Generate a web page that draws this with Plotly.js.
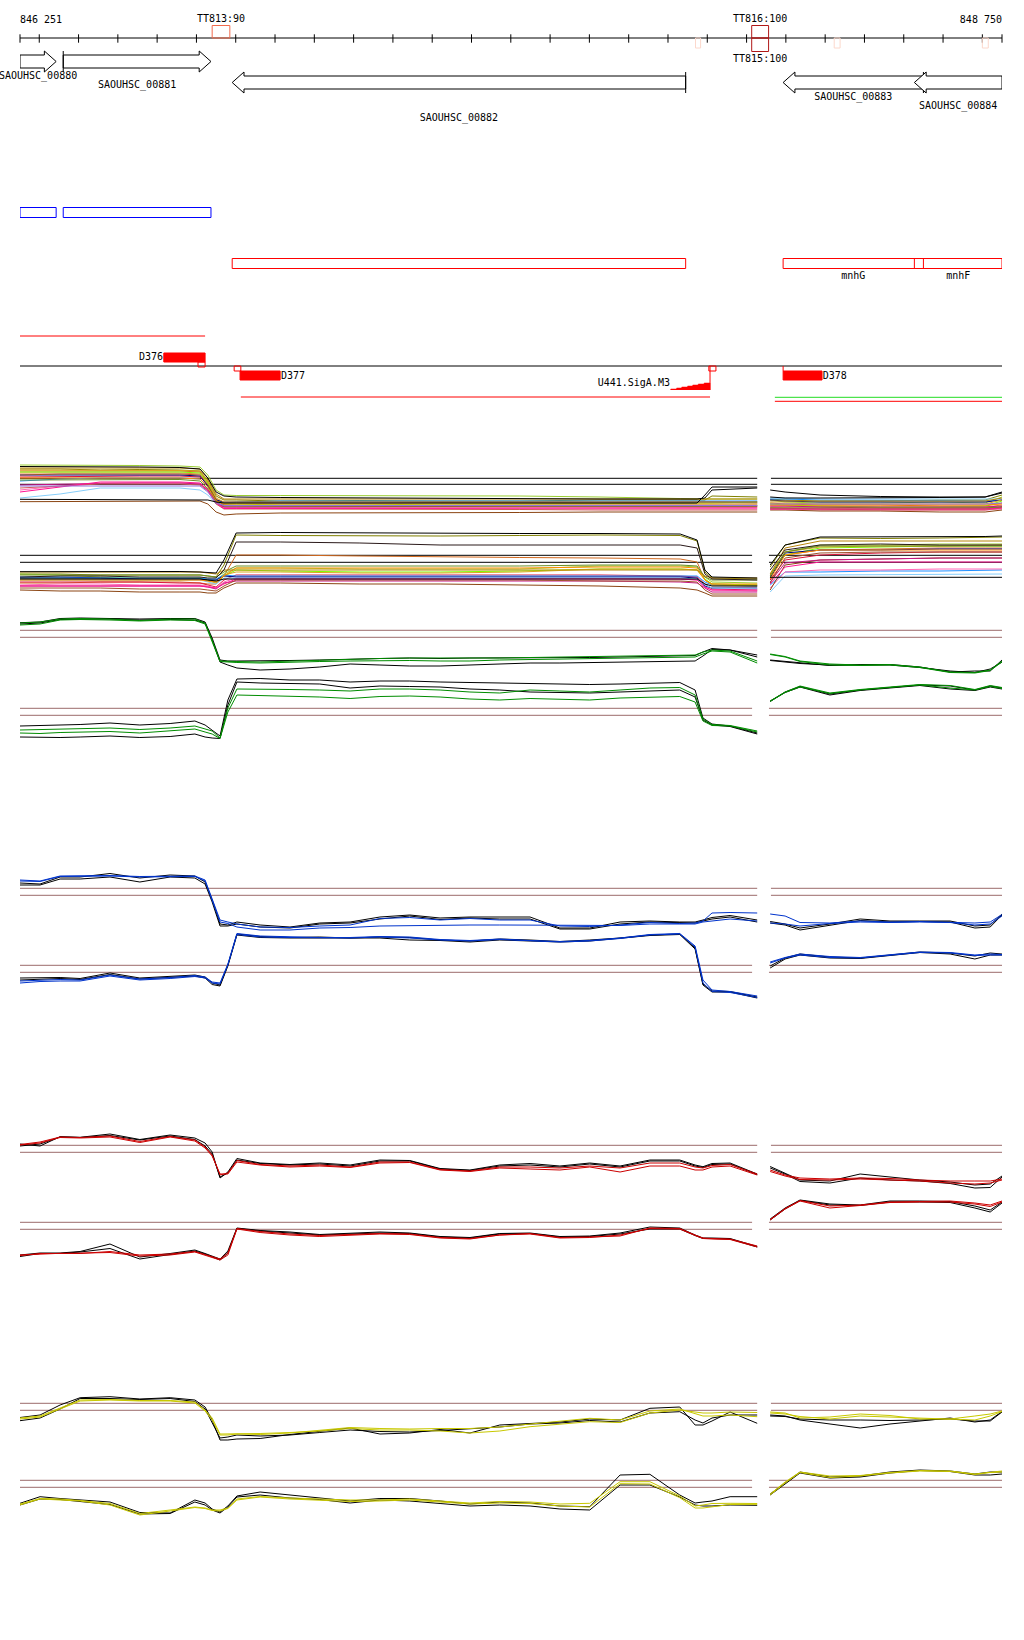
<!DOCTYPE html>
<html><head><meta charset="utf-8">
<script src="https://cdn.plot.ly/plotly-3.0.1.min.js"></script>
<style>html,body{margin:0;padding:0;background:#fff}#chart{width:1024px;height:1640px}</style>
</head><body><div id="chart"></div>
<script>
// ---------------- region ----------------
const viewStart = 846251, viewEnd = 848750;
const startLabel = '846 251', endLabel = '848 750';

// ---------------- genes ----------------
const geneNames  = ['SAOUHSC_00880','SAOUHSC_00881','SAOUHSC_00882','SAOUHSC_00883','SAOUHSC_00884'];
const geneStart  = [846251, 846361, 846791, 848193, 848527];
const geneEnd    = [846343, 846737, 847945, 848550, 848750];
const geneStrand = ['+','+','-','-','-'];
const geneAlias  = ['','','','mnhG','mnhF'];

// ---------------- terminators ----------------
const termNames  = ['TT813:90','TT816:100','TT815:100'];
const termStart  = [846740, 848113, 848113];
const termEnd    = [846785, 848156, 848156];
const termStrand = ['+','+','-'];
const termScore  = [90, 100, 100];
const weakTermStart = [847970, 848323, 848700];
const weakTermEnd   = [847983, 848338, 848715];

// ---------------- promoters / TSS ----------------
const promNames  = ['D376','D377','D378'];
const promStart  = [846617, 846811, 848193];
const promEnd    = [846722, 846913, 848292];
const promStrand = ['+','-','-'];
const tssStart   = [846704, 846796, 848004];
const tssEnd     = [846722, 846813, 848022];
const tssStrand  = ['+','-','-'];
const sigName    = 'U441.SigA.M3';
const sigStepPos   = [847907, 847922, 847935, 847950, 847963, 847977, 847992, 848007];
const sigStepScore = [1, 2, 3, 4, 5, 6, 7];
const transStart = [846251, 846813, 848172, 848172];
const transEnd   = [846722, 848007, 848750, 848750];

// ---------------- probe positions ----------------
const posL = [846251,846302,846353,846404,846480,846556,846633,846696,846722,846740,846760,846780,846803,846862,846938,847014,847091,847167,847243,847320,847396,847472,847549,847625,847701,847778,847854,847930,847969,847989,848012,848058,848127];
const posR = [848160,848198,848236,848312,848389,848465,848541,848618,848681,848720,848750];
const p1PosL = [846251,846353,846455,846556,846658,846709,846729,846750,846770,846801,846913,847116,847320,847523,847727,847931,847974,847994,848012,848127];
const p1PosR = [848160,848198,848287,848440,848592,848707,848750];

// ---------------- panel 1 : many conditions ----------------
const p1FwdF1  = [55,55,55,54.5,54,53,45,30,25,24.5,24.5,24.5,24,24,23,21,21,21,21,21, 20,18,17,17,18,17,23];
const p1FwdK1  = [53.5,53.5,53,53,52.5,51,42,28,24,23,22.5,22,22,21.5,21,21,21,22,30,32, 30,28,25,23.5,23,23,27];
const p1FwdF2  = [51,51,50,50.5,50,49,40,24,20,20,19,19.5,19,19,20,20,20,20,24,23, 21,20,19,19,20,20,25];
const p1FwdF3  = [49,49,48.5,49,49,48,38,21,17,17,17,16.5,17.5,17,17,18,18,18,18,17, 17,16,15,15,14,14,17];
const p1FwdF4  = [47,47,47,46.5,47,46,36,20,15,15,14.5,14,14.5,15,15,15,15,15,15,15, 15,15,14,13,13,13,15];
const p1FwdF5  = [39,41,42,42,42,41,33,20,17,18,19,19,19,19,19,19,19,19,19,19, 21,21,20,20,19.5,19,20];
const p1FwdF6  = [43,43.5,44,44,44,43,35,18,13,13,13,12.5,13,13,13,13,13,13,13,13, 13,13,13,12,12,12,13];
const p1FwdF7  = [30,34,37,37,37,36,30,17,12,12,12,11.5,11.5,11,11,11,11,11,11,11, 11,11,10,10,10,10,11];
const p1FwdF8  = [22,26,32,32,32,30,25,16,15,16,16,16,16,15.5,15.5,16,16,16,16,16, 22,22,21,21,21,21,21];
const p1FwdF9  = [48,48,47.5,48,48,47,37,20,16,16,15,15,16,16,16.5,16.5,16.5,16.5,17,18, 16,15,14,13,13,14,19];
const p1FwdF10 = [18.3,18.5,19,19,19,19,16,8,5,6,7,7,7.5,7.5,8,8,8,8,8,8, 10,10,9,9,8,8,10];
const p1FwdF11 = [35,36,36.5,37,37,36,30,17,13,13,13,13.5,13.5,14,14,14,14,14,14,14, 14,14,13,13,13,13,14];
const p1FwdF12 = [45,45,45,45,45,44,34,20,18,18,18,17.5,18,18,17.5,17.5,18,18,18,18, 20,19,18,18,18,18,20];
const p1FwdF13 = [32,34,36,36,36,35,29,16,11,11,11,11,10.5,10.5,10,10,10,10,10,10, 11,11,11,10,10,10,12];
const p1FwdF14 = [50,50,50,49.5,49.5,49,39,22,18,18,18,18,18,17.5,17.5,17.5,17.5,17.5,18,18, 17,17,16,16,15.5,16,20];
const p1FwdF15 = [45,46,46,46,46,45,35,20,15,14.5,14,14,14,14,14,14,14,14,14,14, 12,11.5,11,11,11,11,13];
const p1FwdF16 = [42,42,42,42,42,41,33,19,16,16,16,16,16,16,16,16,16,16,16,16, 15,15,15,15,15,15,16];
const p1FwdF17 = [40,40,40,40.5,40.5,39,31,18,14,14,14,14,14,14.5,14.5,14,14,14,14,14, 12,12,12,12,12,12,13];
const p1FwdF18 = [28,33,38,38,38,37,30,17,11.5,11.5,11.5,11.5,12,12,12,12,12,12,12,12, 11,11,11,11,11,11,12];
const p1FwdF19 = [34,34,34,34,34.5,34,28,17,14.5,14.5,14.5,14.5,14.5,14.5,14.5,14.5,14.5,14.5,14.5,14.5, 16,16,16,16,16,16,17];
const p1FwdF20 = [52,52,52,52,52,51,42,26,21,21,21,21,21,21,21,21,21,21,21,21, 19,19,19,19,19,19,22];
const p1FwdK2  = [20.7,20.7,20.7,20.7,20.7,20.7,20,18,17,17,17,17,17,17,17,17,17,25,33,33, 23,22,22,22,22.5,23,28];

const p1RevK1  = [28.3,28.3,29,29,28.5,28,27.5,27,40,67,67.5,67,66.5,66.5,66.5,66,60,30,23,22, 35,55,63,63,63,63.5,64];
const p1RevR1  = [26,26,25,25,25,25,24,23,35,65,64.5,64,64,64.5,65,64.5,59,28,22,21, 33,55,62,61.5,62,63,63];
const p1RevK2  = [23,24,24,23,23,23,22,22,30,58,58,57,55,55,55,55,52,26,21,20, 30,50,55,56,55,55,55];
const p1RevR2  = [17,17,18,18,18,17,16,16,24,45,45,44,43,42.5,42,41,38,20,16,15, 25,45,50,51,52,52,52];
const p1RevR3  = [26,25,23,20,20,22,21,20,26,32,32,31,31,31,34,34,33,23,18,17, 26,48,55,55,56,56,56];
const p1RevR4  = [22,22,22,22,22,22,20,18,24,30,29,28,28,29,31,31,30,21,16,15, 23,45,52,53,54,54,54];
const p1RevR5  = [18,18,18,18,17,17,15,13,20,25,25,25,25,25,25,24,23,16,11,10, 20,40,45,47,48,48,48];
const p1RevR6  = [23,23,22,22,22,22,21,21,25,24,24,24,24,24,24,24,24,18,15,14, 15,28,28,29,29,30,30];
const p1RevR7  = [15,16,16,15,15,15,14,12,18,22,22,22,22,21.5,21.5,21,20,13,10,9, 12,28,30,30,31,31,31];
const p1RevR8  = [10,9,9,8,8,8,7,7,12,17,17,16,16,15,14,12,10,7,4,4, 10,35,40,41,42,42,42];
const p1RevR9  = [22,22,22,21,21,21,20,20,24,23,23,23,23,23,23,23,22,14,12,12, 22,47,50,50,51,51,51];
const p1RevR10 = [20,20,20,20,20,20,19,17,25,28,28,27,27,28,31,31,30,20,15,14, 24,48,53,54,54,55,55];
const p1RevR11 = [14,14,14,14,14,14,13,11,17,19,19,19,19,19,19,18,17,12,8,8, 18,37,40,41,42,42,42];
const p1RevR12 = [12,12,12,11,11,11,10,9,14,20,20,20,20,20,19,19,18,10,6,6, 17,42,47,48,48,48,48];
const p1RevR13 = [20,20,20,20,20,20,18,16,22,22,22,22,22,22,22,22,21,15,12,11, 8,24,25,25.5,26,26,26];
const p1RevR14 = [20,20,20,20,20,20,19,18,24,32,32,32,32,32,33,33,32,20,16,16, 21,45,50,50,50,50,50];
const p1RevR15 = [25,25,25,25,25,25,24,23,28,34,34,34,34,34,35,35,34,23,20,20, 24,48,54,54,54,54,54];
const p1RevR16 = [14,14,14,14,14,14,13,12,16,21,21,21,21,21,21,21,20,13,10,10, 16,33,38,38,38,38,38];
const p1RevR17 = [28,28,28,28,28,28,27,26,30,30,30,30,30,30,30,30,30,24,22,22, 26,52,59,59,59,59,59];
const p1RevK3  = [21,21,21,21,21,21,20,19,21,21,21,21,21,21,21,21,21,16,14,14, 22.7,22.7,22.7,22.7,22.7,22.7,22.7];

// ---------------- panel 2 : green ----------------
const grnFwdK1 = [57.3,58,61.5,62,61.5,61,61.5,61.5,58,42,20,19,19,19,19.5,20,21,21.5,22,21.5,22,22,22,22,22.5,23,23.5,24,24.5,28,31.5,30,23, 20,18.5,17,14.5,15.5,15.5,13,8,9,9,20];
const grnFwdK2 = [56,57,60.5,61,61,60,60.5,60,57,40,18,15,12,10,11,13,16,15,14,14,15,15.5,17,17,17.5,18,18,18.5,19,24,30.5,30,25, 19.5,18,16.5,15,15,15,12.5,9,7.5,11,18];
const grnFwdG1 = [57,58,61,61.5,61,59.5,61,61,57,40,19,19,18.5,18,19,20,21,21.5,22,22,21.5,22,22.5,23,23.5,24,24.5,25,25,28,30,29,19, 26,23.5,19,16,15,15.5,13,8,7.5,10,19];
const grnFwdG2 = [55,56,60,60.5,60,59,60,59.5,56,39,18.5,18,17.5,17,18,18.5,19,19.5,19.5,19,19,20,20.5,21,21.5,22,22.5,23,23,26,29,28,17, 25.5,23,18.5,15,14.5,15,12.5,7.5,7,9.5,18];
const grnRevK1 = [24,24.5,25,25.5,27,25,26.5,29,25,20,14,50,71,71.5,70,70,68,69,69,68,67.5,67,66.5,66,65.5,66,67,67.5,60,32,26,24,17, 48.5,58,63.5,56,60,62.5,65,64,60,64,62];
const grnRevK2 = [13,12.5,12.5,13,14,12.5,13.5,16,13,12,11.5,45,68,67,66.5,66,62,64,63.5,63,61,60,58,57.5,57,58,59,60,53,30,25,23.5,16, 49,57.5,63,55,59.5,62,64.5,61,59.5,63,61];
const grnRevG1 = [20,20.5,21,21,22,20.5,22,24,21,19,12,42,61,61,60.5,60,59,61,61,60,58,57,60,59,58,60,62,62.5,55,31,25.5,24.5,19, 49,58,64,57,60.5,63,65.5,64.5,60.5,64.5,62.5];
const grnRevG2 = [17,16.5,17.5,18,18.5,17,19,21,18,16,11.5,38,55,54.5,54,53,51.5,53.5,54,53,51,50,51.5,50.5,50,52,53,53.5,48,29,24.5,24,18, 48.5,57.5,63,56.5,60,62.5,65,62,60,63.5,61.5];

// ---------------- panel 3 : blue ----------------
const bluFwdK1 = [57,56,63,63,66.5,62,65,64,58,40,16,15,18,15,13,17,18,23,25,22,23,23,23,12,12,18,19,18,18,20,22.5,24.5,20, 18.5,16,12,16,21,19,19,19,14,15,26];
const bluFwdK2 = [55,55,61,61,63,58,63,62,56,38,14,14,16,13,12,16,17,21,24,20.5,22,21,21,11,11,16,18,17.5,17,19,21,23,18, 17,15,10,15,19.5,18,18.5,18,12,13,25];
const bluFwdB1 = [60,59,64,64.5,64.5,63.5,64,64,60,42,20,18,16,13,12.5,14,15,21.5,22.5,20,21.5,20,20,14,13.5,15,17.5,16.5,17,19,27,27.5,27, 26,24,17.5,17,19,18,18.5,18,17,18,25.5];
const bluFwdB2 = [59,58.5,63.5,64,64,63,63.5,63.5,59,40,18,16.5,13,10,10,12,12.5,14,14.5,14.5,15,15,15,14.5,14.5,14.5,16,16,16,18,19,21,19, 17,16,14,16.5,18,17.5,18,17.5,15,16,24];
const bluRevK1 = [32,32,32.5,31.5,37,32,34,35,33,27,25,45,76,73.5,72.5,73,72,73,72.5,70,69,71,70,68.5,70,72,75,76,62,26,19,18.5,13, 44,52,56,53,52,55,58,57,54,57,56];
const bluRevK2 = [30,31,31.5,30.5,35.5,31,33,34,32,25.5,24,44,75,72.5,72,72,71.5,72,70,69.5,68,70,69,68,69,71.5,74.5,75.5,61,25,18,18,12, 42,51,55,52,51.5,54.5,57.5,56,51,55,55];
const bluRevB1 = [29,30,30.5,30,35,31,32.5,34.5,33,28,27,46,76.5,74,73,72.5,72.5,73.5,73,70.5,69.5,71,69.5,68.5,69.5,72,75.5,76.5,64,30,20,18.5,14, 48,52.5,56,53.5,52.5,55.5,58,57.5,55,56,55.5];
const bluRevB2 = [27,28.5,29,29,34,30,31.5,33.5,32,27,26,45,75.5,73,72.5,72,72,73,72,70,69,70.5,69,68,69,71.5,75,76,63,27,18.5,17.5,12.5, 47,52,55,52.5,52,55,57.5,57,54.5,55,55];

// ---------------- panel 4 : red ----------------
const redFwdK1 = [56,54,63.3,62.7,66,60.5,65,62,57,48,22,28,41.5,37,35.5,37,35,40,39.5,31.5,30,35,36.5,34,37,34,40,40,35,33.3,36.5,37,26, 33.5,27,20,19,26,23,20,18,15,16,24];
const redFwdK2 = [54,56,63,62.5,64.5,60,64,60.5,54,46,23,27,40,36.5,35,36,34,39,39,31,29.5,34,35,33,36,33,39,39,34,32.5,35.5,36,25.5, 32,26,18.5,17,22,20,19,16.5,12,12.5,23];
const redFwdR1 = [55.5,58,63,62.5,64,58.5,63.5,60,53,45,25,27,39.5,35.5,34,35,33,38,38,30.5,29,33,33,32,34,32,37,37,33,32,34.5,35.5,26, 30,25,22,21,22,21.5,20,19,19,19,21];
const redFwdR2 = [55,57,62.5,62,63,57.5,63,59,52,44,26,26,38,35,33,34,32.5,37,37.5,30,28.5,32,31,30,33,28,34,34,30,30,33,34,25, 28.5,24,20.5,20,21,20,19,17,16,17,20];
const redRevK1 = [15,17,17,18.5,26,13,16.5,20,16.5,14,11,19,42,39.5,38,35.5,36.5,38,37,33.5,32.5,36.5,37,33.5,34,37,43,42,35,32,32,31.5,23.5, 51,62,70,66,65,69,69,68.5,64,60,68];
const redRevK2 = [13.5,16.5,16.5,18,21.5,11,15.5,19,16,13,10,17,41.5,39,37,35,36,37,36.5,33,32,36,36.5,33,33.5,36,41,41,34.5,31.5,31.5,31,23, 50,61,69.5,65,64.5,68,68,67.5,62,58,67];
const redRevR1 = [15,16,16.7,16.5,18.5,15,16,18.5,15.5,13.5,11,17,41.5,38.5,36,34.5,35.5,36.5,36,32.5,31.5,35,36.5,32.5,33,34,42,41.5,35,32,31.5,31,24, 50.5,61.5,69.5,64,65,68,68.5,69,67,65,69];
const redRevR2 = [14.5,16.5,16.5,16.7,17.5,14,15,18,15,13,10,15,41,37.5,35,33.5,35,36,35.5,32,31,35,36,32,32.5,35,41.5,41,34.5,31.5,31,30.5,23, 50,61,69,62,64.5,67.5,68,68,66,63.5,68];

// ---------------- panel 5 : yellow ----------------
const yelFwdK1 = [32.5,35,45,52.3,53.3,51,52.3,50,43,30,10,10,11,11.5,15.5,19,22,16,17,20.5,17,25,26.7,28,31,30,41.7,43,25,25,29,38,26.7, 35,34,30,26,22,26,29,32,28,30,38.5];
const yelFwdK2 = [29.3,32,41,51.5,51.5,50.5,51.5,48.5,41,27,12,13,15,14,15,17.5,20,18.5,18,19.5,21,23,26,27,29.5,28,37,38.3,30,27,32,35,35, 34,33.5,31,30,30,29.5,30,31,29,29,38];
const yelFwdY1 = [32,34,42,50,50.5,49.5,49.5,48,40,32,16,16,16.5,16.5,17.5,19,21.5,20,20,19,17,19,23.3,26,28.3,27.5,37,40,38,37,37,38,37.5, 38,37,32,33,36,34.5,31,31,34,36,39];
const yelFwdY2 = [31,33,41,49,50,49,49,47,39,30,15,15,16,15.5,17,20,22.5,21.5,21,21.5,21.5,23,26,28.3,31.7,30,39,41,36,34,34,35,33.3, 37,36,33.5,31,34,33,32,30.5,30,34,38.5];
const yelRevK1 = [26.7,33.3,31.5,30,28,17.5,17,30,27,21,18,24,34,38,35,32.5,29,31.5,31.5,29,26,28,27,24,23.3,55,55.7,35,27,28,29,33.3,33.3, 36,47,58,53,54,58,60,59,56,58,58];
const yelRevK2 = [25,31,30.5,28.5,25.5,16,16.5,28,25,20,17,23,33,35,32,30.5,27,30,29,26.5,24,25,24,21,20,45,45,33,25,24,24,25,24.7, 35,46,57,52,53,57,59.5,58.5,55,55,56];
const yelRevY1 = [26,31.5,31,29.5,26.5,16.5,20,23,22,20,20,22,31,33.5,32,31,30,30,31,29,27,28.5,28,26,26.7,48.3,48.3,34,24,25,26.5,26.7,26.5, 36,48,58,54,54.5,57.5,59.5,59,56,58,59];
const yelRevY2 = [25,31,30,29,25,15,19,22.5,21.5,19.5,19,21.5,30,33,31,30,28.5,29,30,28,26,27,26.5,24,23,46.3,46,32.3,22,22,23,25.5,25.7, 35,47,57.5,52.5,54,57,59,58.5,55.5,57.5,58];

// threshold levels per sub-panel
const p1FwdRef = [41.7, 35.7], p1RevRef = [44.7, 37.7];
const grnFwdRef = [49.7, 42.7], grnRevRef = [41.7, 34.7];
const bluFwdRef = [51.7, 44.7], bluRevRef = [44.7, 37.7];
const redFwdRef = [54.7, 47.7], redRevRef = [47.7, 40.7];
const yelFwdRef = [46.7, 39.7], yelRevRef = [49.7, 42.7];

// segment extents of the tiling (left / right blocks)
const fwdSegStart = [846251, 848162], fwdSegEnd = [848127, 848750];
const revSegStart = [846251, 848157], revSegEnd = [848114, 848750];

// ================= drawing =================
const H = 1640;
const mono = 'DejaVu Sans Mono, monospace';
const traces = [];
const base = {type:'scatter', hoverinfo:'skip', showlegend:false, xaxis:'x'};
function line(xs, ys, color, width, axis){
  traces.push(Object.assign({}, base, {mode:'lines', x:xs, y:ys, yaxis:axis||'y', line:{color:color, width:width||1}}));
}
function poly(xs, ys, lineColor, fillColor, width){
  traces.push(Object.assign({}, base, {mode:'lines', x:xs, y:ys, yaxis:'y', fill:'toself',
    fillcolor:fillColor, line:{color:lineColor, width:width===undefined?1:width}}));
}
function rect(x0, x1, y0, y1, lineColor, fillColor){
  poly([x0,x1,x1,x0,x0],[y0,y0,y1,y1,y0], lineColor, fillColor||'rgba(0,0,0,0)');
}
function label(x, y, s, pos){
  traces.push(Object.assign({}, base, {mode:'text', x:[x], y:[y], yaxis:'y', text:[s],
    textposition:pos||'middle center', cliponaxis:false,
    textfont:{family:mono, size:10, color:'#000'}}));
}

// coordinate ruler
line([viewStart, viewEnd], [38, 38], '#000', 1);
const ticks = [viewStart];
for (let p = 846300; p < viewEnd; p += 100) ticks.push(p);
ticks.push(viewEnd);
traces.push(Object.assign({}, base, {mode:'markers', x:ticks, y:ticks.map(()=>38.5), yaxis:'y', cliponaxis:false,
  marker:{symbol:'line-ns', size:6, line:{width:1, color:'#000'}}}));
label(viewStart, 20, startLabel, 'middle right');
label(viewEnd, 20, endLabel, 'middle left');

// terminators
weakTermStart.forEach((s,i)=>rect(s, weakTermEnd[i], 38, 48, '#fcd8cc'));
termNames.forEach((n,i)=>{
  const col = termScore[i] >= 100 ? '#b01818' : '#f26a4c';
  const fwd = termStrand[i] === '+';
  rect(termStart[i], termEnd[i], fwd ? 25.5 : 38, fwd ? 38 : 51.5, col);
  label((termStart[i]+termEnd[i])/2, fwd ? 19.5 : 59, n);
});

// gene arrows
const headLen = 30;
const geneLabelRow = [76, 85, 118, 97, 106];
geneNames.forEach((n,i)=>{
  const s = geneStart[i], e = geneEnd[i], fwd = geneStrand[i] === '+';
  const yc = fwd ? 61.5 : 82.5;
  const ys = [yc-6.5, yc-6.5, yc-10.5, yc, yc+10.5, yc+6.5, yc+6.5, yc-6.5];
  const xs = fwd ? [s, e-headLen, e-headLen, e, e-headLen, e-headLen, s, s]
                 : [e, s+headLen, s+headLen, s, s+headLen, s+headLen, e, e];
  poly(xs, ys, '#000', '#fff', 1);
  if (fwd && s > viewStart) line([s, s], [yc-10.5, yc+10.5], '#000', 1);
  if (!fwd && e < viewEnd) line([e, e], [yc-10.5, yc+10.5], '#000', 1);
  label((s+e)/2, geneLabelRow[i], n);
});

// CDS boxes
geneNames.forEach((n,i)=>{
  const fwd = geneStrand[i] === '+';
  rect(geneStart[i], geneEnd[i], fwd ? 207.5 : 258.5, fwd ? 217.5 : 268.5, fwd ? '#0000ff' : '#ff0000');
  if (geneAlias[i]) label((geneStart[i]+geneEnd[i])/2, 276, geneAlias[i]);
});

// transcripts / promoters
const transRow = [336, 397, 397.3, 401.3];
const transColor = ['#ff0000', '#ff0000', '#22dd22', '#ff0000'];
transStart.forEach((s,i)=>line([s, transEnd[i]], [transRow[i], transRow[i]], transColor[i], 1));
line([viewStart, viewEnd], [366, 366], '#000', 1);
promNames.forEach((n,i)=>{
  const fwd = promStrand[i] === '+';
  rect(promStart[i], promEnd[i], fwd ? 353 : 371, fwd ? 362 : 380, '#ff0000', '#ff0000');
  if (fwd) label(promStart[i]-2, 357.5, n, 'middle left');
  else label(promEnd[i]+2, 376, n, 'middle right');
});
tssStart.forEach((s,i)=>{
  const fwd = tssStrand[i] === '+';
  rect(s, tssEnd[i], fwd ? 362 : 366, fwd ? 367 : 371, '#ff0000');
});
line([promStart[2], promStart[2]], [366, 371], '#ff0000', 1);
// sigma promoter score staircase
(function(){
  const xs = [sigStepPos[0]], ys = [390];
  sigStepScore.forEach((sc,i)=>{ xs.push(sigStepPos[i], sigStepPos[i+1]); ys.push(390-sc, 390-sc); });
  xs.push(sigStepPos[sigStepPos.length-1]); ys.push(390);
  poly(xs, ys, '#ff0000', '#ff0000', 0.5);
  const last = sigStepPos[sigStepPos.length-1];
  line([last, last], [366, 390], '#ff0000', 1);
  label(sigStepPos[0]-2, 383.5, sigName, 'middle left');
})();

// ---------------- expression panels ----------------
const refColor = '#9c6b6b';
const panels = [
  {B:520,  H:70, ref:p1FwdRef, rc:'#000', seg:'f', posL:p1PosL, posR:p1PosR,
   series:[p1FwdF1,p1FwdF2,p1FwdF3,p1FwdF4,p1FwdF5,p1FwdF6,p1FwdF7,p1FwdF8,p1FwdF9,p1FwdF10,p1FwdF11,p1FwdF12,p1FwdF13,p1FwdF14,p1FwdF15,p1FwdF16,p1FwdF17,p1FwdF18,p1FwdF19,p1FwdF20,p1FwdK1,p1FwdK2],
   colors:['#9acd32','#808000','#d2691e','#e8853a','#1e90ff','#dc143c','#ff69b4','#87cefa','#7cfc00','#8b4513','#c71585','#000080','#cd5c5c','#daa520','#a0522d','#ff8c00','#6b8e23','#ff1493','#9370db','#b8860b','#000','#000']},
  {B:600,  H:75, ref:p1RevRef, rc:'#000', seg:'r', posL:p1PosL, posR:p1PosR,
   series:[p1RevR1,p1RevR2,p1RevR3,p1RevR4,p1RevR5,p1RevR6,p1RevR7,p1RevR8,p1RevR9,p1RevR10,p1RevR11,p1RevR12,p1RevR13,p1RevR14,p1RevR15,p1RevR16,p1RevR17,p1RevK1,p1RevK2,p1RevK3],
   colors:['#808000','#d2691e','#9acd32','#7cfc00','#dc143c','#1e90ff','#ff69b4','#8b4513','#000080','#daa520','#c71585','#a0522d','#87cefa','#ff8c00','#6b8e23','#ff1493','#b8860b','#000','#2b1a1a','#000']},
  {B:680,  H:80, ref:grnFwdRef, rc:refColor, seg:'f', posL, posR, series:[grnFwdK1,grnFwdK2,grnFwdG1,grnFwdG2], colors:['#000','#000','#008c00','#008c00']},
  {B:750,  H:90, ref:grnRevRef, rc:refColor, seg:'r', posL, posR, series:[grnRevK1,grnRevK2,grnRevG1,grnRevG2], colors:['#000','#000','#008c00','#008c00']},
  {B:940,  H:80, ref:bluFwdRef, rc:refColor, seg:'f', posL, posR, series:[bluFwdK1,bluFwdK2,bluFwdB1,bluFwdB2], colors:['#000','#000','#0033cc','#0033cc']},
  {B:1010, H:90, ref:bluRevRef, rc:refColor, seg:'r', posL, posR, series:[bluRevK1,bluRevK2,bluRevB1,bluRevB2], colors:['#000','#000','#0033cc','#0033cc']},
  {B:1200, H:80, ref:redFwdRef, rc:refColor, seg:'f', posL, posR, series:[redFwdK1,redFwdK2,redFwdR1,redFwdR2], colors:['#000','#000','#cc0000','#cc0000']},
  {B:1270, H:80, ref:redRevRef, rc:refColor, seg:'r', posL, posR, series:[redRevK1,redRevK2,redRevR1,redRevR2], colors:['#000','#000','#cc0000','#cc0000']},
  {B:1450, H:80, ref:yelFwdRef, rc:refColor, seg:'f', posL, posR, series:[yelFwdK1,yelFwdK2,yelFwdY1,yelFwdY2], colors:['#000','#000','#c8c800','#c8c800']},
  {B:1530, H:80, ref:yelRevRef, rc:refColor, seg:'r', posL, posR, series:[yelRevK1,yelRevK2,yelRevY1,yelRevY2], colors:['#000','#000','#c8c800','#c8c800']}
];

const layout = {
  width:1024, height:1640, margin:{l:20, r:22, t:0, b:0, pad:0},
  paper_bgcolor:'#fff', plot_bgcolor:'rgba(0,0,0,0)', showlegend:false, hovermode:false,
  xaxis:{range:[viewStart, viewEnd], visible:false, fixedrange:true},
  yaxis:{domain:[1-420/H, 1], range:[420, 0], visible:false, fixedrange:true}
};

panels.forEach((p, k)=>{
  const ax = 'y' + (k+2);
  layout['yaxis' + (k+2)] = {domain:[1 - p.B/H, 1 - (p.B - p.H)/H], range:[0, p.H], visible:false, anchor:'x', fixedrange:true};
  const ss = p.seg === 'f' ? fwdSegStart : revSegStart;
  const se = p.seg === 'f' ? fwdSegEnd : revSegEnd;
  p.ref.forEach(r=>{ ss.forEach((s,j)=>line([s, se[j]], [r, r], p.rc, 1, ax)); });
  const nL = p.posL.length;
  p.series.forEach((v, j)=>{
    line(p.posL, v.slice(0, nL), p.colors[j], 1, ax);
    line(p.posR, v.slice(nL), p.colors[j], 1, ax);
  });
});

Plotly.newPlot('chart', traces, layout, {staticPlot:true, displayModeBar:false});
</script>
</body></html>
